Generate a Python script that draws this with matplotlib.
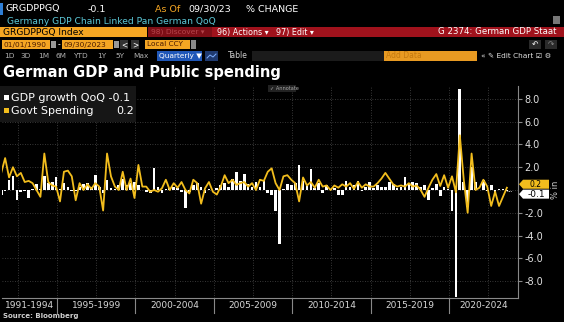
import numpy as np
import matplotlib
matplotlib.use('Agg')
import matplotlib.pyplot as plt
from matplotlib.patches import Rectangle, Polygon
from matplotlib.lines import Line2D

W, H = 564, 322

# quarterly % change, 1991 Q2 .. 2023 Q3
first_year, first_q = 1991, 2
gdp_qoq = [
    -0.4, -0.1, 0.9,
    1.2, -0.9, -0.2, -0.1,
    -0.7, 0.1, 0.5, 0.1,
    1.2, 0.6, 0.7, 1.1,
    0.1, 0.6, 0.3, -0.1,
    -0.1, 0.3, 0.5, 0.6,
    0.3, 1.3, 0.3, -0.3,
    0.9, 0.2, 0.1, 0.4,
    1.0, 0.4, 0.6, 0.7,
    0.4, 0.0, -0.15, -0.3,
    1.9, 0.3, -0.3, 0.1,
    0.2, 0.3, 0.2, -0.2,
    -1.6, -0.2, 0.4, 0.6,
    0.3, -0.3, 0.1, 0.0,
    0.2, 0.4, 0.6, 0.3,
    1.0, 1.6, 0.8, 1.4,
    0.5, 0.3, 0.7, 0.3,
    0.9, -0.3, -0.4, -1.8,
    -4.7, 0.1, 0.5, 0.4,
    0.6, 2.2, 0.8, 0.5,
    1.8, 0.2, 0.6, -0.3,
    0.4, 0.1, 0.2, -0.4,
    -0.4, 0.8, 0.3, 0.4,
    0.8, -0.1, 0.3, 0.7,
    0.2, 0.4, 0.3, 0.3,
    0.7, 0.5, 0.2, 0.3,
    1.1, 0.6, 0.7, 0.6,
    0.3, 0.4, -0.9, 0.2,
    0.5, -0.5, 0.3, 0.1,
    -1.8, -9.4, 8.9, 0.7,
    -1.5, 2.0, 0.7, 0.0,
    0.9, -0.1, 0.4, -0.4,
    0.1, 0.1, -0.1,
]
govt_spending = [
    1.5, 2.8, 1.1,
    2.0, 1.2, 1.5, 0.7,
    0.8, 0.6, 0.0, -0.6,
    3.2, 0.7, 0.4, 0.3,
    -1.0, 1.6, 1.7, 1.2,
    -0.9, 0.6, 0.0, 0.5,
    0.1, 0.6, 0.3, -1.8,
    3.2, 1.2, 0.3, 0.0,
    1.6, 0.0, 1.0, -0.7,
    2.2, 0.3, 0.3, -0.15,
    0.0, -0.15, 0.15, 0.9,
    0.0, 0.6, 0.2, 0.7,
    0.0, -0.3, 0.9, 0.6,
    -1.2, 0.15, 0.7, -0.15,
    -0.4, 0.3, 1.3, 0.6,
    0.9, 0.45, 0.6, 0.7,
    0.3, 0.6, 0.0, 0.9,
    0.8, 1.6, 1.9, 0.6,
    0.0, 1.2, 1.3, 0.9,
    0.6, -1.0, 1.1, 0.4,
    0.7, 0.2, 0.9, 0.3,
    0.4, 0.0, 0.4, 0.2,
    0.5, 0.3, 0.6, 0.1,
    0.7, 0.2, 0.5, 0.3,
    0.3, 0.6, 1.0, 1.5,
    1.0, 0.5, 0.3, 0.4,
    0.3, 0.6, 0.3, 0.4,
    0.0, -0.6, 0.2, 0.9,
    1.4, 0.35, 1.3, 0.2,
    1.2, -0.2, 4.8, 0.9,
    -2.0, 3.2, 0.0, 0.2,
    0.9, 0.3, -1.4, -0.15,
    -1.4, -0.6, 0.2,
]
period_starts = [1995, 2000, 2005, 2010, 2015, 2020]
period_labels = ['1991-1994', '1995-1999', '2000-2004', '2005-2009',
                 '2010-2014', '2015-2019', '2020-2024']
y_ticks = [-8, -6, -4, -2, 2, 4, 6, 8]

ORANGE = '#f5a623'
GOLD = '#f2bd1d'
GRID = '#4a4a4a'

plt.rcParams['font.family'] = ['DejaVu Sans']

fig = plt.figure(figsize=(W / 100, H / 100), dpi=100, facecolor='black')


def box(x0, y0, x1, y1, color, **kw):
    fig.add_artist(Rectangle((x0 / W, 1 - y1 / H), (x1 - x0) / W, (y1 - y0) / H,
                             transform=fig.transFigure, facecolor=color,
                             edgecolor='none', **kw))


def txt(x, y, s, size=7, color='white', **kw):
    fig.text(x / W, 1 - y / H, s, fontsize=size, color=color, va='center', **kw)


# --- terminal header ---
box(0, 3, 3, 15, '#2f7fd6')
txt(5, 9, 'GRGDPPGQ', 6.8)
txt(88, 9, '-0.1', 6.8)
txt(155, 9, 'As Of', 6.8, ORANGE)
txt(188, 9, '09/30/23', 6.8)
txt(246, 9, '% CHANGE', 6.8)
txt(7, 21, 'Germany GDP Chain Linked Pan German QoQ', 6.6, '#5cc8d8')
box(553, 16, 560, 24, '#777')

box(0, 27, 147, 37, ORANGE)
txt(3, 32, 'GRGDPPGQ Index', 6.6, 'black')
box(148, 27, 564, 37, '#a0121c')
box(148, 27, 212, 37, '#7e0e16')
txt(151, 32, '98) Discover ▾', 5.4, '#b5454b')
txt(217, 32, '96) Actions ▾', 5.8)
txt(276, 32, '97) Edit ▾', 5.8)
txt(556, 32, 'G 2374: German GDP Staat', 6.2, ha='right')

box(2, 40, 50, 49, ORANGE)
txt(3, 44.5, '01/01/1990', 5.3, '#4a1a00')
box(51, 41, 56, 48, '#999')
txt(57.5, 44.5, '-', 5.5)
box(62, 40, 113, 49, ORANGE)
txt(64, 44.5, '09/30/2023', 5.3, '#4a1a00')
box(114, 41, 119, 48, '#999')
box(120, 40, 128, 49, '#333')
txt(124, 44.5, '<', 5.5, ha='center')
box(131, 40, 139, 49, '#333')
txt(135, 44.5, '>', 5.5, ha='center')
box(145, 40, 190, 49, ORANGE)
txt(147, 44.5, 'Local CCY', 5.3, '#4a1a00')
box(191, 40, 196, 49, '#888')
box(529, 40, 541, 49, '#2a2a2a')
txt(535, 44.5, '↶', 5.5, ha='center')
box(545, 40, 557, 49, '#2a2a2a')
txt(551, 44.5, '↷', 5.5, '#888', ha='center')

for lbl, x in zip(['1D', '3D', '1M', '6M', 'YTD', '1Y', '5Y', 'Max'],
                  [4, 20, 38, 56, 73, 97, 115, 133]):
    txt(x, 56, lbl, 5.3, '#b0b0b0')
box(157, 51, 202, 61, '#1f57b8')
txt(159, 56, 'Quarterly ▼', 5.3)
box(205, 51, 218, 61, '#1f3a70')
# small line-chart icon
fig.add_artist(Line2D([207 / W, 210 / W, 213 / W, 216 / W],
                      [1 - 58 / H, 1 - 55 / H, 1 - 57 / H, 1 - 54 / H],
                      transform=fig.transFigure, color='#7fb0ff', lw=0.7))
txt(228, 56, 'Table', 5.5, '#d0d0d0')
box(252, 51, 384, 61, '#1b1b1b')
box(384, 51, 477, 61, '#e89a22')
txt(386, 56, 'Add Data', 5.5, '#c47a10')
txt(481, 56, '« ✎ Edit Chart ☑ ⚙', 5.3, '#e0e0e0')

# --- title ---
txt(3, 73, 'German GDP and Public spending', 10.5, weight='bold')

# --- chart ---
n = len(gdp_qoq)
qi = np.arange(n) + first_q
t = first_year + qi / 4 - 0.06

ax = fig.add_axes([2 / W, 1 - 298 / H, 516 / W, 212 / H])
ax.set_facecolor('black')
ax.set_xlim(1991.49, 2024.40)
ax.set_ylim(-9.47, 9.12)

for y in [-8, -6, -4, -2, 0, 2, 4, 6, 8]:
    ax.axhline(y, color=GRID, lw=0.6, ls=(0, (1, 2)), zorder=0)
for x in np.arange(1992.5, 2024, 2.5):
    ax.axvline(x, color=GRID, lw=0.6, ls=(0, (1, 2)), zorder=0)

ax.bar(t, gdp_qoq, width=0.17, color='white', zorder=2)
ax.plot(t, govt_spending, color=GOLD, lw=1.3, zorder=3)
ax.plot([t[-1], 2024.0], [gdp_qoq[-1], gdp_qoq[-1]], color='white', lw=0.6,
        ls=(0, (1, 1)), zorder=3)

for s in ['top', 'left']:
    ax.spines[s].set_visible(False)
ax.spines['right'].set_color('#888')
ax.spines['bottom'].set_color('#888')
ax.yaxis.tick_right()
ax.set_yticks(y_ticks)
ax.set_yticklabels(['%.1f' % v for v in y_ticks])
ax.tick_params(axis='y', colors='#888', labelcolor='#e0e0e0', labelsize=7,
               length=3, pad=1.5)
ax.set_xticks([])

# period separators and labels under the axis
xl = ax.get_xlim()
bounds = [xl[0]] + period_starts + [xl[1]]
for x in period_starts:
    ax.plot([x, x], [0, -0.07], transform=ax.get_xaxis_transform(),
            color='#888', lw=0.8, clip_on=False)
for i, lbl in enumerate(period_labels):
    ax.text((bounds[i] + bounds[i + 1]) / 2, -0.035, lbl,
            transform=ax.get_xaxis_transform(), ha='center', va='center',
            fontsize=6.5, color='#d8d8d8')


# last value tags on the right axis
def tag(yval, label, face, tcolor, yoff, size):
    y0 = ax.transData.transform((0, yval))[1]
    y0 = fig.transFigure.inverted().transform((0, y0))[1] * H
    y0 = H - y0 + yoff
    pts = [(519, y0), (523, y0 - 4.5), (549, y0 - 4.5), (549, y0 + 4.5), (523, y0 + 4.5)]
    fig.add_artist(Polygon([(px / W, 1 - py / H) for px, py in pts],
                           transform=fig.transFigure, facecolor=face,
                           edgecolor='none'))
    txt(536, y0, label, size, tcolor, ha='center')


tag(govt_spending[-1], '0.2', GOLD, 'black', -3.5, 5.5)
tag(gdp_qoq[-1], '-0.1', 'white', 'black', 3, 6.5)
txt(556, 190, '% in', 6, '#d0d0d0', rotation=90, ha='center')

# legend
box(0, 86, 136, 122, '#161616')
box(4, 95, 9, 100, 'white')
txt(11, 98, 'GDP growth QoQ -0.1', 8)
box(4, 108, 9, 113, GOLD)
txt(11, 111, 'Govt Spending', 8)
txt(116, 111, '0.2', 8)

box(268, 85, 296, 92, '#222')
txt(270, 88.5, '✓ Annotate', 3.6, '#aaa')

txt(3, 316, 'Source: Bloomberg', 5, '#d0d0d0', weight='bold')

fig.savefig('out.png', dpi=100, facecolor='black')
